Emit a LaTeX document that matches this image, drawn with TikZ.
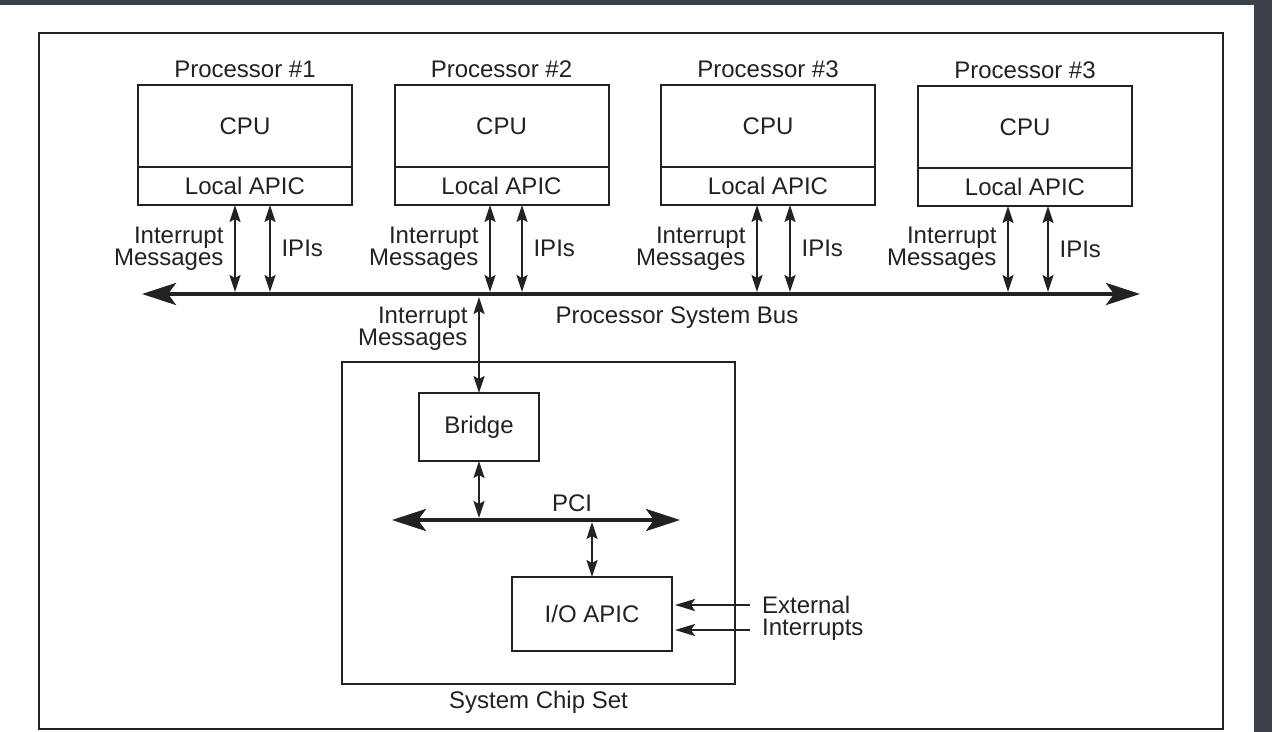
\documentclass[tikz,border=0pt]{standalone}
\usepackage{fontspec}
\setmainfont{Liberation Sans}
\usetikzlibrary{positioning,arrows.meta}
\definecolor{pagebg}{HTML}{3D4149}
\definecolor{ink}{HTML}{222222}
\lineskiplimit=-6pt

\begin{document}
\begin{tikzpicture}[x=0.5pt, y=-0.5pt,
    every node/.style={font=\fontsize{12}{11}\selectfont, text=ink},
    box/.style={draw=ink, line width=1pt, outer sep=0pt, inner sep=0pt},
    cpu/.style={box, minimum width=107pt, minimum height=41pt},
    apic/.style={box, minimum width=107pt, minimum height=19pt},
    sig/.style={draw=ink, line width=0.9pt,
        {Stealth[length=8.5pt,width=5.5pt,inset=1.5pt]}-{Stealth[length=8.5pt,width=5.5pt,inset=1.5pt]}},
    extin/.style={draw=ink, line width=0.9pt, -{Stealth[length=10pt,width=6pt,inset=2pt]}},
    bus/.style={draw=ink, line width=2pt,
        {Stealth[length=17pt,width=11pt,inset=4pt]}-{Stealth[length=17pt,width=11pt,inset=4pt]}}]

    \useasboundingbox (0,0) rectangle (1272,732);
    \fill[pagebg] (0,0) rectangle (1272,732);
    \fill[white] (0,5) rectangle (1254,732);
    \draw[ink, line width=1.2pt] (39,33) rectangle (1223,729);

    % processors
    \node[cpu] (cpu1) at (245,126) {CPU};
    \node[apic, below=0pt of cpu1] (apic1) {Local APIC};
    \node[above=0pt of cpu1] (proc1) {Processor \#1};

    \node[cpu] (cpu2) at (501.5,126) {CPU};
    \node[apic, below=0pt of cpu2] (apic2) {Local APIC};
    \node[above=0pt of cpu2] (proc2) {Processor \#2};

    \node[cpu] (cpu3) at (768,126) {CPU};
    \node[apic, below=0pt of cpu3] (apic3) {Local APIC};
    \node[above=0pt of cpu3] (proc3) {Processor \#3};

    \node[cpu] (cpu4) at (1025,127) {CPU};
    \node[apic, below=0pt of cpu4] (apic4) {Local APIC};
    \node[above=0pt of cpu4] (proc4) {Processor \#3};

    % processor system bus
    \coordinate (busL) at (142,294);
    \coordinate (busR) at (1140,294);
    \draw[bus] (busL) -- node[pos=0.536, below=2pt] {Processor System Bus} (busR);

    \coordinate (im1) at (235,292);
    \coordinate (ipi1) at (270,292);
    \coordinate (im2) at (490,292);
    \coordinate (ipi2) at (522,292);
    \coordinate (im3) at (757,292);
    \coordinate (ipi3) at (790,292);
    \coordinate (im4) at (1008,292);
    \coordinate (ipi4) at (1048,292);

    \draw[sig] (im1 |- apic1.south) -- node[left=2pt, align=right] {Interrupt\\Messages} (im1);
    \draw[sig] (ipi1 |- apic1.south) -- node[right=2pt] {IPIs} (ipi1);
    \draw[sig] (im2 |- apic2.south) -- node[left=2pt, align=right] {Interrupt\\Messages} (im2);
    \draw[sig] (ipi2 |- apic2.south) -- node[right=2pt] {IPIs} (ipi2);
    \draw[sig] (im3 |- apic3.south) -- node[left=2pt, align=right] {Interrupt\\Messages} (im3);
    \draw[sig] (ipi3 |- apic3.south) -- node[right=2pt] {IPIs} (ipi3);
    \draw[sig] (im4 |- apic4.south) -- node[left=2pt, align=right] {Interrupt\\Messages} (im4);
    \draw[sig] (ipi4 |- apic4.south) -- node[right=2pt] {IPIs} (ipi4);

    % system chip set
    \node[box, minimum width=196.5pt, minimum height=161pt] (chip) at (538.5,523) {};
    \node[below=0pt of chip] (chiplbl) {System Chip Set};
    \node[box, minimum width=60pt, minimum height=34pt] (bridge) at (479,427) {Bridge};
    \node[box, minimum width=80pt, minimum height=37pt] (ioapic) at (592,614) {I/O APIC};

    \draw[sig, shorten <=1.5pt] (bridge.north |- busL) -- node[pos=0.35, left=2pt, align=right] {Interrupt\\Messages} (bridge.north);

    \coordinate (pciL) at (392,520);
    \coordinate (pciR) at (680,520);
    \draw[bus] (pciL) -- node[pos=0.625, above] {PCI} (pciR);
    \draw[sig, shorten >=1pt] (bridge.south) -- (bridge.south |- pciL);
    \draw[sig, shorten <=1pt] (ioapic.north |- pciL) -- (ioapic.north);

    % external interrupts
    \coordinate (ext1) at (750,605);
    \coordinate (ext2) at (750,630);
    \draw[extin, shorten >=1.5pt] (ext1) -- (ext1 -| ioapic.east);
    \draw[extin, shorten >=1.5pt] (ext2) -- (ext2 -| ioapic.east);
    \node[right=2.5pt of ext1] (extlbl1) {External};
    \node[right=2.5pt of ext2] (extlbl2) {Interrupts};

\end{tikzpicture}
\end{document}
